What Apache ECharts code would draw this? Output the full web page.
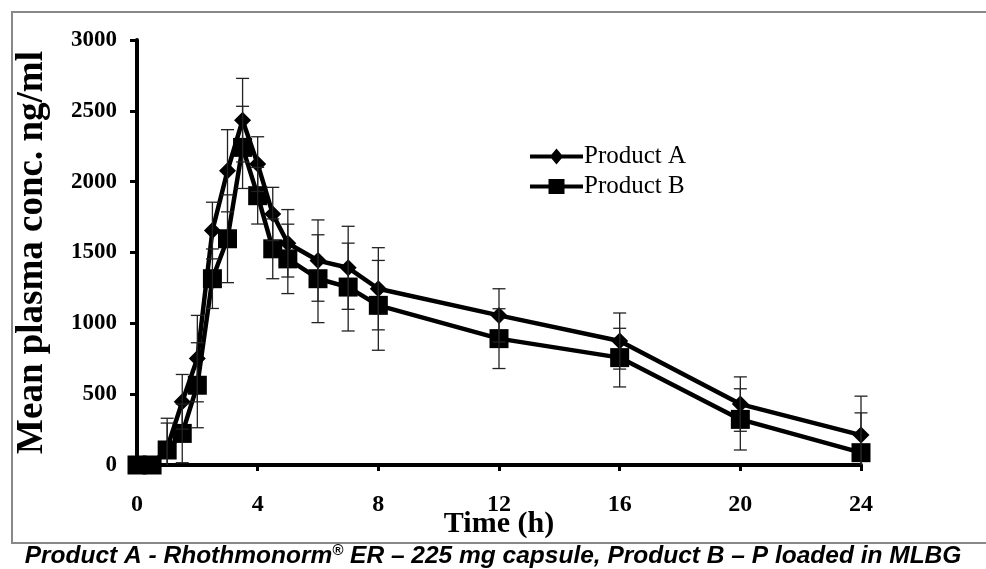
<!DOCTYPE html>
<html>
<head>
<meta charset="utf-8">
<script src="https://cdn.jsdelivr.net/npm/echarts@6/dist/echarts.min.js"></script>
<style>
  html, body { margin: 0; padding: 0; background: #fff; }
  #main { width: 986px; height: 569px; }
</style>
</head>
<body>
<div id="main"></div>
<script>
// time points (h)
var time = [0, 0.5, 1, 1.5, 2, 2.5, 3, 3.5, 4, 4.5, 5, 6, 7, 8, 12, 16, 20, 24];
// Product A mean + sd
var productA = [0, 0, 120, 446, 751, 1655, 2077, 2434, 2124, 1772, 1565, 1443, 1392, 1244, 1056, 875, 430, 211];
var productA_sd = [0, 0, 210, 193, 305, 200, 290, 295, 193, 188, 238, 287, 293, 290, 188, 198, 192, 275];
// Product B mean + sd
var productB = [0, 0, 106, 223, 563, 1315, 1597, 2242, 1901, 1526, 1455, 1315, 1256, 1127, 892, 758, 322, 87];
var productB_sd = [0, 0, 190, 207, 300, 210, 310, 290, 200, 211, 245, 310, 310, 317, 211, 207, 216, 281];

var xTicks = [0, 4, 8, 12, 16, 20, 24];
var yTicks = [0, 500, 1000, 1500, 2000, 2500, 3000];

var serif = '"Liberation Serif", "Times New Roman", serif';

function pairs(vals) {
  return time.map(function (t, i) { return [t, vals[i]]; });
}
function errData(vals, sd) {
  return time.map(function (t, i) { return [t, vals[i] - sd[i], vals[i] + sd[i]]; });
}

// draw one error bar (vertical line + caps), lower end clipped at 0
function renderErr(params, api) {
  var x = api.value(0);
  var lo = api.value(1), hi = api.value(2);
  if (hi === lo) return;
  var loC = Math.max(lo, 0);
  var pHi = api.coord([x, hi]);
  var pLo = api.coord([x, loC]);
  var w = 6.5;
  var st = { stroke: '#222', lineWidth: 1.3 };
  var kids = [
    { type: 'line', shape: { x1: pHi[0], y1: pHi[1], x2: pLo[0], y2: pLo[1] }, style: st },
    { type: 'line', shape: { x1: pHi[0] - w, y1: pHi[1], x2: pHi[0] + w, y2: pHi[1] }, style: st }
  ];
  if (lo >= 0) {
    kids.push({ type: 'line', shape: { x1: pLo[0] - w, y1: pLo[1], x2: pLo[0] + w, y2: pLo[1] }, style: st });
  }
  return { type: 'group', children: kids };
}

// legend icons: thick line with the marker in the middle (53 x 16 box)
var iconA = 'path://M0,6 L21.5,6 L26.5,0 L31.5,6 L53,6 L53,10 L31.5,10 L26.5,16 L21.5,10 L0,10 Z';
var iconB = 'path://M0,6 L18.5,6 L18.5,0.5 L34.5,0.5 L34.5,6 L53,6 L53,10 L34.5,10 L34.5,15.5 L18.5,15.5 L18.5,10 L0,10 Z';

var myChart = echarts.init(document.getElementById('main'));

var option = {
  animation: false,
  backgroundColor: '#fff',
  grid: { left: 137, right: 125, top: 40, bottom: 104 },
  legend: {
    left: 525,
    top: 139,
    orient: 'vertical',
    itemWidth: 53,
    itemHeight: 16,
    itemGap: 5,
    data: [
      { name: 'Product A', icon: iconA },
      { name: 'Product B', icon: iconB }
    ],
    itemStyle: { color: '#000', borderWidth: 0 },
    textStyle: { fontFamily: serif, fontSize: 25, color: '#000', padding: [0, 0, 0, -4] }
  },
  xAxis: {
    type: 'value',
    min: 0, max: 24, interval: 4,
    name: 'Time (h)',
    nameLocation: 'middle',
    nameGap: 44,
    nameMoveOverlap: false,
    nameTextStyle: { fontFamily: serif, fontSize: 30, fontWeight: 'bold', color: '#000' },
    axisLine: { lineStyle: { color: '#000', width: 4 } },
    axisTick: { length: 6, lineStyle: { color: '#000', width: 3 } },
    axisLabel: {
      margin: 28,
      fontFamily: serif, fontSize: 24, fontWeight: 'bold', color: '#000',
      customValues: xTicks
    },
    splitLine: { show: false }
  },
  yAxis: {
    type: 'value',
    min: 0, max: 3000, interval: 500,
    name: 'Mean plasma conc. ng/ml',
    nameLocation: 'middle',
    nameRotate: 90,
    nameGap: 86,
    nameMoveOverlap: false,
    nameTextStyle: { fontFamily: serif, fontSize: 37, fontWeight: 'bold', color: '#000' },
    axisLine: { show: true, lineStyle: { color: '#000', width: 4 } },
    axisTick: { show: true, length: 7, lineStyle: { color: '#000', width: 3 } },
    axisLabel: {
      margin: 20,
      fontFamily: serif, fontSize: 23, fontWeight: 'bold', color: '#000',
      customValues: yTicks,
      formatter: function (v) { return String(v); }
    },
    splitLine: { show: false }
  },
  series: [
    {
      name: 'Product A',
      type: 'line',
      data: pairs(productA),
      symbol: 'diamond',
      symbolSize: 17,
      lineStyle: { color: '#000', width: 4.5 },
      itemStyle: { color: '#000' },
      z: 3
    },
    {
      name: 'Product B',
      type: 'line',
      data: pairs(productB),
      symbol: 'rect',
      symbolSize: 19,
      lineStyle: { color: '#000', width: 4.5 },
      itemStyle: { color: '#000' },
      z: 4
    },
    {
      type: 'custom',
      renderItem: renderErr,
      data: errData(productA, productA_sd),
      encode: { x: 0, y: [1, 2] },
      z: 5,
      silent: true
    },
    {
      type: 'custom',
      renderItem: renderErr,
      data: errData(productB, productB_sd),
      encode: { x: 0, y: [1, 2] },
      z: 5,
      silent: true
    }
  ],
  graphic: [
    {
      type: 'rect',
      shape: { x: 12, y: 12, width: 1000, height: 531 },
      style: { fill: 'none', stroke: '#888', lineWidth: 2 },
      z: 0
    },
    {
      type: 'text',
      left: 'center',
      top: 543,
      style: {
        text: 'Product A - Rhothmonorm{sup|®} ER – 225 mg capsule, Product B – P loaded in MLBG',
        fontFamily: '"Liberation Sans", Arial, sans-serif',
        fontSize: 24.5,
        fontStyle: 'italic',
        fontWeight: 'bold',
        fill: '#000',
        rich: {
          sup: {
            fontFamily: '"Liberation Sans", Arial, sans-serif',
            fontSize: 15,
            fontStyle: 'italic',
            fontWeight: 'bold',
            verticalAlign: 'top',
            padding: [0, 0, 12, 0]
          }
        }
      }
    }
  ]
};

myChart.setOption(option);
</script>
</body>
</html>
